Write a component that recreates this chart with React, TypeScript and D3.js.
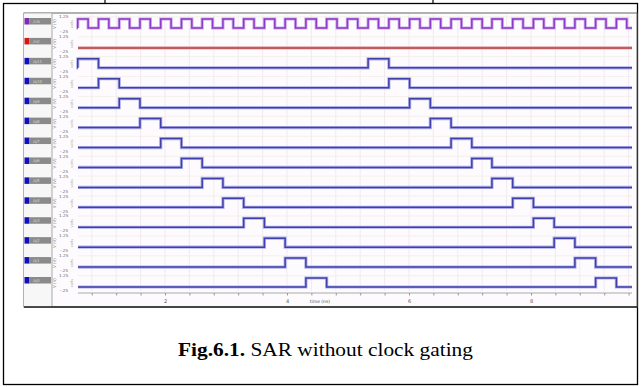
import React, { useEffect, useRef } from "react";
import * as d3 from "d3";

// signal rows, top to bottom
const signalNames = ["/clk", "/rst", "/q11", "/q10", "/q9", "/q8", "/q7", "/q6", "/q5", "/q4", "/q3", "/q2", "/q1", "/q0"];
const signalKinds = ["clock", "reset", "bit", "bit", "bit", "bit", "bit", "bit", "bit", "bit", "bit", "bit", "bit", "bit"];

// time window shown (ns)
const timeStart = 0.574;
const timeEnd = 9.656;

// clock rising edges (ns) and high time
const clockRise = [0.57, 0.91, 1.25, 1.59, 1.93, 2.27, 2.61, 2.95, 3.29, 3.63, 3.97, 4.31, 4.65, 4.99,
  5.33, 5.67, 6.01, 6.35, 6.69, 7.03, 7.36, 7.70, 8.04, 8.38, 8.72, 9.06, 9.40];
const clockHigh = 0.17;

// reset stays low the whole time
const resetPulses: number[][] = [];

// high windows of each output bit (ns)
const bitPulses = [
  [[0.57, 0.91], [5.33, 5.67]],
  [[0.91, 1.25], [5.67, 6.01]],
  [[1.25, 1.59], [6.01, 6.35]],
  [[1.59, 1.93], [6.35, 6.69]],
  [[1.93, 2.27], [6.69, 7.03]],
  [[2.27, 2.61], [7.03, 7.36]],
  [[2.61, 2.95], [7.36, 7.70]],
  [[2.95, 3.29], [7.70, 8.04]],
  [[3.29, 3.63], [8.04, 8.38]],
  [[3.63, 3.97], [8.38, 8.72]],
  [[3.97, 4.31], [8.72, 9.06]],
  [[4.31, 4.65], [9.06, 9.40]],
];

const majorTicks = [2, 4, 6, 8];
const levelLabels = ["1.25", "-.25"];

export default function App() {
  const svgRef = useRef<SVGSVGElement>(null);

  useEffect(() => {
    const W = 641, H = 387;
    const svg = d3.select(svgRef.current)
      .html("")
      .attr("width", W)
      .attr("height", H);

    // figure frame
    svg.append("rect")
      .attr("x", 3.5).attr("y", 3.5)
      .attr("width", 634).attr("height", 381)
      .attr("fill", "#fff")
      .attr("stroke", "#000")
      .attr("stroke-width", 1.3);
    [105, 433].forEach(xx => {
      svg.append("line")
        .attr("x1", xx).attr("x2", xx)
        .attr("y1", 0).attr("y2", 3.5)
        .attr("stroke", "#000").attr("stroke-width", 1.2);
    });

    // screenshot panel
    const shot = { left: 24, top: 13, right: 637, bottom: 307 };
    const plotLeft = 78, plotRight = 632, sepX = 52;

    svg.append("rect")
      .attr("x", shot.left).attr("y", shot.top)
      .attr("width", shot.right - shot.left).attr("height", shot.bottom - shot.top)
      .attr("fill", "#fdfbfd")
      .attr("stroke", "#666").attr("stroke-width", 1);
    svg.append("rect")
      .attr("x", shot.left).attr("y", shot.top + 0.5)
      .attr("width", sepX - shot.left).attr("height", shot.bottom - shot.top - 1)
      .attr("fill", "#f7f7f7");
    svg.append("line")
      .attr("x1", sepX).attr("x2", sepX)
      .attr("y1", shot.top).attr("y2", shot.bottom)
      .attr("stroke", "#a8a8a8");
    svg.append("line")
      .attr("x1", shot.left).attr("x2", shot.right)
      .attr("y1", shot.bottom).attr("y2", shot.bottom)
      .attr("stroke", "#222").attr("stroke-width", 1.5);

    const x = d3.scaleLinear().domain([timeStart, timeEnd]).range([plotLeft, plotRight]);
    const row = d3.scalePoint().domain(signalNames).range([28, 287]);
    const lv = d3.scaleLinear().domain([-0.25, 1.25]).range([2.25, -11.25]);

    // faint grid
    const minorTicks = d3.range(0.8, timeEnd, 0.4);
    svg.append("g")
      .selectAll("line")
      .data(minorTicks)
      .enter().append("line")
      .attr("x1", d => x(d)).attr("x2", d => x(d))
      .attr("y1", shot.top + 2).attr("y2", 291)
      .attr("stroke", "#ece4ec").attr("stroke-width", 0.7);
    svg.append("g")
      .selectAll("line")
      .data(signalNames)
      .enter().append("line")
      .attr("x1", plotLeft).attr("x2", plotRight)
      .attr("y1", d => row(d)! + lv(1.25)).attr("y2", d => row(d)! + lv(1.25))
      .attr("stroke", "#f1ece2").attr("stroke-width", 0.7);

    // step waveform from high windows
    const steps = (pulses: number[][]) => {
      const pts: [number, number][] = [[timeStart, 0]];
      pulses.forEach(([a, b]) => {
        const e = Math.min(b, timeEnd);
        pts.push([a, 0], [a, 1], [e, 1], [e, 0]);
      });
      pts.push([timeEnd, 0]);
      return pts;
    };

    const colors: Record<string, [string, string]> = {
      clock: ["#cfaaec", "#8a3cc8"],
      reset: ["#e4a8a8", "#b04444"],
      bit: ["#b0b0ea", "#4040ac"],
    };
    const boxColors: Record<string, string> = { clock: "#7a2fb0", reset: "#d01818", bit: "#1010b8" };

    signalNames.forEach((name, i) => {
      const kind = signalKinds[i];
      const y0 = row(name)!;
      let pulses: number[][];
      if (kind === "clock") pulses = clockRise.map(r => [r, r + clockHigh]);
      else if (kind === "reset") pulses = resetPulses;
      else pulses = bitPulses[i - 2];

      const line = d3.line<[number, number]>()
        .x(d => x(d[0]))
        .y(d => y0 + lv(d[1]));
      const pts = steps(pulses);

      svg.append("path")
        .datum(pts)
        .attr("fill", "none")
        .attr("stroke", colors[kind][0])
        .attr("stroke-width", 3.2)
        .attr("d", line);
      svg.append("path")
        .datum(pts)
        .attr("fill", "none")
        .attr("stroke", colors[kind][1])
        .attr("stroke-width", 1.5)
        .attr("d", line);

      // name box
      svg.append("rect")
        .attr("x", 24.5).attr("y", y0 - 10)
        .attr("width", 5).attr("height", 6.5)
        .attr("fill", boxColors[kind]);
      svg.append("rect")
        .attr("x", 29.5).attr("y", y0 - 10)
        .attr("width", 21.5).attr("height", 6.5)
        .attr("fill", "#8a8a8a");
      svg.append("text")
        .attr("x", 33).attr("y", y0 - 5)
        .text(name)
        .style("font-family", "DejaVu Sans")
        .style("font-size", "4px")
        .attr("fill", "#d8d8d8");

      // level labels and unit
      svg.append("text")
        .attr("x", 59).attr("y", y0 + lv(1.25) + 1.5)
        .text(levelLabels[0])
        .style("font-family", "DejaVu Sans")
        .style("font-size", "4.2px")
        .attr("fill", "#666");
      svg.append("text")
        .attr("x", 60).attr("y", y0 + lv(-0.25) + 3)
        .text(levelLabels[1])
        .style("font-family", "DejaVu Sans")
        .style("font-size", "4.2px")
        .attr("fill", "#666");
      svg.append("text")
        .attr("transform", `translate(56,${y0 - 4}) rotate(-90)`)
        .attr("text-anchor", "middle")
        .text("V (V)")
        .style("font-family", "DejaVu Sans")
        .style("font-size", "4px")
        .attr("fill", "#777");
      svg.append("text")
        .attr("transform", `translate(73,${y0 - 4}) rotate(-90)`)
        .attr("text-anchor", "middle")
        .text("volts")
        .style("font-family", "DejaVu Sans")
        .style("font-size", "3.5px")
        .attr("fill", "#aaa");
    });

    // time axis
    const axis = svg.append("g")
      .attr("transform", "translate(0,293)")
      .call(d3.axisBottom(x)
        .tickValues(minorTicks)
        .tickSize(2.5)
        .tickPadding(4)
        .tickFormat(d => (majorTicks.some(m => Math.abs(m - +d) < 1e-6) ? String(Math.round(+d)) : "")));
    axis.select(".domain").attr("stroke", "#aaa").attr("d", `M${plotLeft},0H${plotRight}`);
    axis.selectAll(".tick line").attr("stroke", "#999");
    axis.selectAll(".tick text")
      .style("font-family", "DejaVu Sans")
      .style("font-size", "5px")
      .attr("fill", "#555");
    svg.append("text")
      .attr("x", x(4.54)).attr("y", 303)
      .attr("text-anchor", "middle")
      .text("time (ns)")
      .style("font-family", "DejaVu Sans")
      .style("font-size", "4.5px")
      .attr("fill", "#555");

    // caption
    const cap = svg.append("text")
      .attr("x", 178).attr("y", 356)
      .attr("textLength", 295)
      .attr("lengthAdjust", "spacingAndGlyphs")
      .style("font-family", "Liberation Serif")
      .style("font-size", "19.5px")
      .attr("fill", "#000");
    cap.append("tspan").style("font-weight", "bold").text("Fig.6.1.");
    cap.append("tspan").text(" SAR without clock gating");
  }, []);

  return <svg ref={svgRef} style={{ position: "absolute", left: 0, top: 0, display: "block" }}></svg>;
}
